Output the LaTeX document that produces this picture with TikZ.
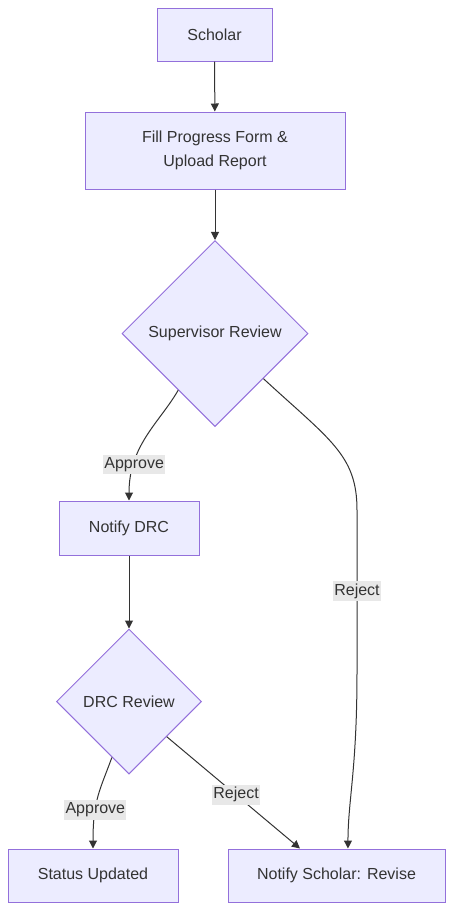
\documentclass[tikz,border=0pt]{standalone}
\usepackage{fontspec}
\setmainfont{Liberation Sans}
\usetikzlibrary{shapes.geometric,arrows.meta}
\definecolor{nodefill}{HTML}{ECECFF}
\definecolor{nodeline}{HTML}{9370DB}
\definecolor{ink}{HTML}{333333}
\definecolor{lblfill}{HTML}{E8E8E8}

\begin{document}
\begin{tikzpicture}[x=0.75pt,y=-0.75pt,font=\fontsize{12}{18}\selectfont,
    box/.style={draw=nodeline,fill=nodefill,line width=0.75pt,inner sep=0pt,align=center,text=ink},
    decide/.style={diamond,draw=nodeline,fill=nodefill,line width=0.75pt,inner sep=0pt,aspect=1,text=ink},
    lbl/.style={fill=lblfill,inner xsep=1pt,inner ysep=2pt,text=ink},
    arr/.style={draw=ink,line width=0.75pt,-{Triangle[length=6pt,width=6pt]}}]
    \useasboundingbox (0,0) rectangle (454,911);

    \node [box,minimum width=86.25pt,minimum height=39.75pt] (scholar) at (214.5,34.5) {Scholar};
    \node [box,minimum width=195pt,minimum height=57.75pt] (form) at (215,150.5) {Fill Progress Form \&\\Upload Report};
    \node [decide,minimum size=139.5pt] (super) at (215,333.5) {Supervisor Review};
    \node [box,minimum width=105pt,minimum height=40.5pt] (notify) at (129,528) {Notify DRC};
    \node [decide,minimum size=108.75pt] (drc) at (129,701.5) {DRC Review};
    \node [box,minimum width=127.5pt,minimum height=39.75pt] (status) at (93,875.5) {Status Updated};
    \node [box,minimum width=162.75pt,minimum height=39.75pt] (revise) at (336.5,875.5) {Notify Scholar: Revise};

    \draw [arr] (scholar) -- (form);
    \draw [arr] (form) -- (super);
    \draw [arr] (super.237) .. controls (160,422) and (129,445) .. node [lbl,pos=0.75] {Approve} (notify.north);
    \draw [arr] (super.-43) .. controls (330,440) and (357,455) .. (357,510)
      -- node [lbl] {Reject} (357,672) .. controls (357,770) and (348,800) .. ([xshift=8.6pt]revise.north);
    \draw [arr] (notify) -- (drc);
    \draw [arr] (drc.253) .. controls (100,790) and (93,800) .. node [lbl,pos=0.66] {Approve} (status.north);
    \draw [arr] (drc.-43) -- node [lbl,pos=0.52] {Reject} ([xshift=-27.4pt]revise.north);
\end{tikzpicture}
\end{document}
